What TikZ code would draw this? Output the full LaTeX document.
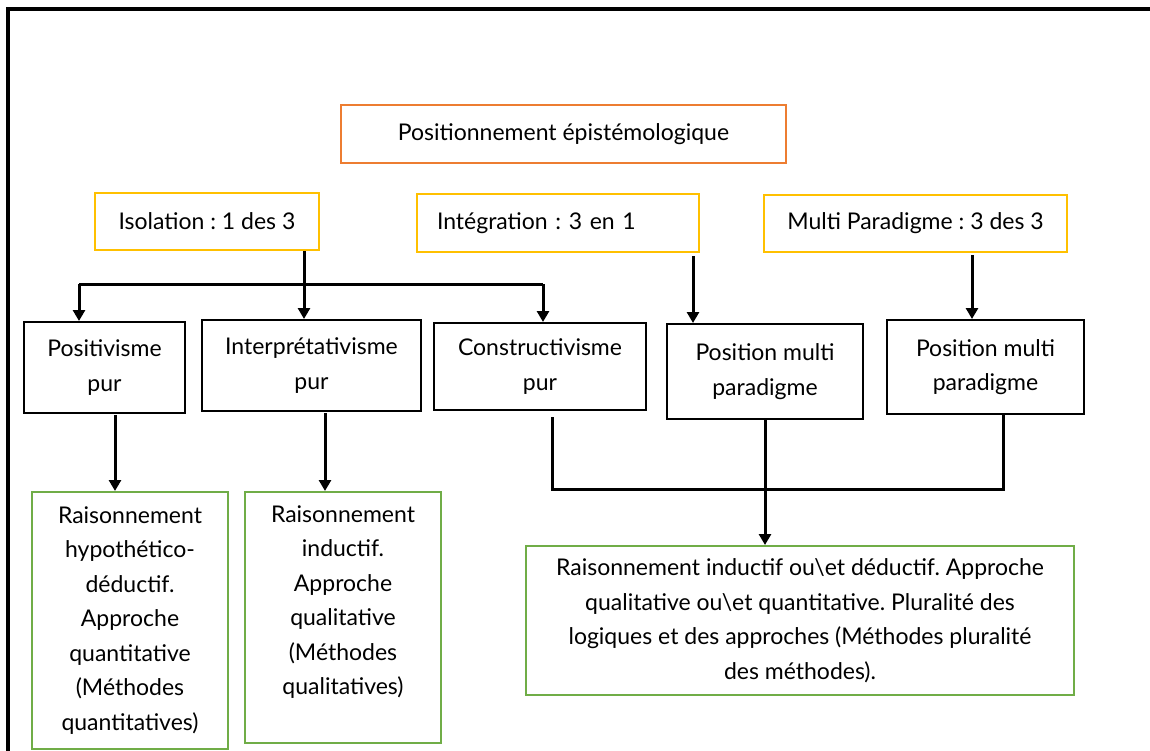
\documentclass[tikz,border=0pt]{standalone}
\usepackage{fontspec}
\setmainfont{Lato}
\usetikzlibrary{arrows.meta}
\definecolor{orangeW}{HTML}{ED7D31}
\definecolor{jauneW}{HTML}{FFC000}
\definecolor{vertW}{HTML}{70AD47}
\frenchspacing

\begin{document}
\begin{tikzpicture}[x=1pt,y=-1pt,
    every node/.style={font=\fontsize{23}{34.5}\selectfont},
    boite/.style={draw,line width=2pt,align=center,inner sep=0pt},
    titre/.style={boite,draw=orangeW},
    jaune/.style={boite,draw=jauneW},
    jaunegauche/.style={jaune,align=left,inner xsep=20pt},
    noire/.style={boite,draw=black},
    verte/.style={boite,draw=vertW},
    lien/.style={line width=3pt},
    fleche/.style={lien,-{Triangle[width=12pt,length=11pt]}}]
      \useasboundingbox (0,0) rectangle (1150,751);
      \clip (0,0) rectangle (1150,751);
      \draw[line width=4pt] (8,775) -- (8,9) -- (1175,9);
      \node[titre,minimum width=445pt,minimum height=58pt] (pos) at (563.5,134) {Positionnement épistémologique};
      \node[jaune,minimum width=224pt,minimum height=57pt] (isol) at (207,221.5) {Isolation : 1 des 3};
      \node[jaunegauche,text width=242pt,minimum height=58pt] (integ) at (558,223) {Intégration : 3 en 1};
      \node[jaune,minimum width=303pt,minimum height=57pt] (multi) at (915.5,223.5) {Multi Paradigme : 3 des 3};
      \node[noire,minimum width=161pt,minimum height=91pt] (posi) at (104.5,367.5) {Positivisme\\pur};
      \node[noire,minimum width=219pt,minimum height=91pt] (interp) at (311.5,365.5) {Interprétativisme\\pur};
      \node[noire,minimum width=212pt,minimum height=87pt] (constr) at (540,366.5) {Constructivisme\\pur};
      \node[noire,minimum width=196pt,minimum height=95pt] (pm1) at (765,371.5) {Position multi\\paradigme};
      \node[noire,minimum width=197pt,minimum height=94pt] (pm2) at (985.5,367) {Position multi\\paradigme};
      \node[verte,minimum width=196pt,minimum height=257pt] (raisA) at (130,620.5) {Raisonnement\\hypothético-\\déductif.\\Approche\\quantitative\\(Méthodes\\quantitatives)};
      \node[verte,minimum width=196pt,minimum height=251pt] (raisB) at (343,617.5) {Raisonnement\\inductif.\\Approche\\qualitative\\(Méthodes\\qualitatives)\\\mbox{}};
      \node[verte,minimum width=548pt,minimum height=149pt] (raisC) at (800,620.5) {Raisonnement inductif ou\textbackslash et déductif. Approche\\qualitative ou\textbackslash et quantitative. Pluralité des\\logiques et des approches (Méthodes pluralité\\des méthodes).};
      \coordinate (bg) at (79,284);
      \coordinate (bm) at (304,284);
      \coordinate (bd) at (543,284);
      \draw[lien] (bg) -- (bd);
      \draw[fleche] (bm |- isol.south) -- (bm |- interp.north);
      \draw[fleche] (bg) -- (bg |- posi.north);
      \draw[fleche] (bd) -- (bd |- constr.north);
      \coordinate (xi) at (693,256);
      \draw[fleche] (xi) -- (xi |- pm1.north);
      \coordinate (xm) at (972,255);
      \draw[fleche] (xm) -- (xm |- pm2.north);
      \coordinate (xa) at (115,415);
      \draw[fleche] (xa) -- (xa |- raisA.north);
      \coordinate (xb) at (325,413);
      \draw[fleche] (xb) -- (xb |- raisB.north);
      \coordinate (jg) at (552,489);
      \coordinate (jd) at (1003,489);
      \draw[lien] (jg |- constr.south) ++(0,6) -- (jg) -- (jd) -- (jd |- pm2.south);
      \draw[fleche] (pm1.south) -- (pm1.south |- raisC.north);
    \end{tikzpicture}
\end{document}
